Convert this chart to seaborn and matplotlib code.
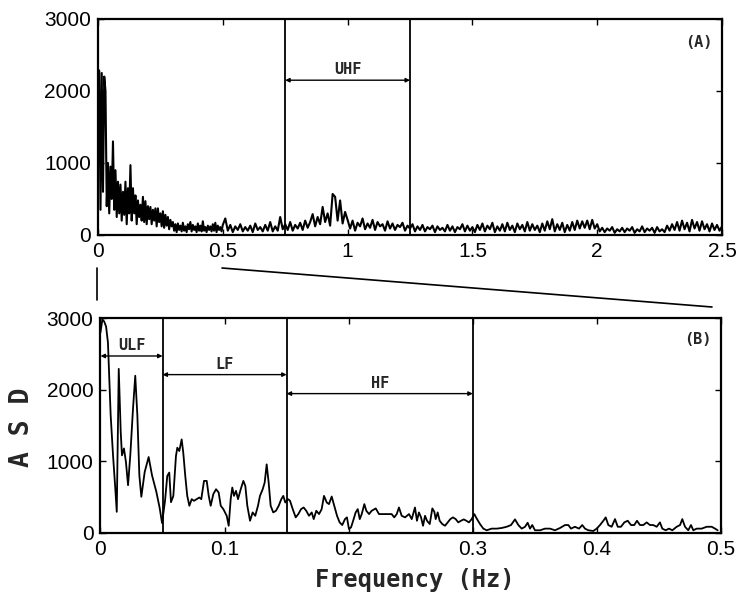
import numpy as np
import pandas as pd
import matplotlib
matplotlib.use("Agg")
import matplotlib.pyplot as plt
from matplotlib.lines import Line2D
import seaborn as sns

# ---------------- data ----------------
# Panel A: 0-0.5 Hz at 0.005 Hz, then 0.51-2.50 Hz at 0.01 Hz
freq_a_low = np.round(np.arange(0, 101) * 0.005, 4)
asd_a_low = [2300, 2280, 350, 2250, 600, 2200, 2000, 400, 1000, 300,
             950, 500, 1300, 350, 900, 250, 740, 300, 700, 200,
             600, 280, 740, 150, 650, 300, 970, 200, 650, 300,
             550, 150, 480, 250, 420, 200, 530, 180, 470, 150,
             400, 220, 390, 150, 350, 200, 370, 120, 370, 180,
             300, 120, 330, 100, 280, 130, 250, 80, 210, 120,
             180, 60, 150, 40, 160, 70, 130, 50, 170, 60,
             120, 40, 150, 80, 180, 50, 140, 70, 120, 40,
             160, 60, 130, 50, 190, 60, 110, 40, 130, 70,
             120, 50, 150, 60, 170, 40, 130, 70, 110, 50,
             140]
freq_a_high = np.round(np.arange(51, 251) * 0.01, 4)
asd_a_high = [230, 60, 140, 40, 120, 70, 150, 50, 110, 60,
              130, 40, 160, 70, 110, 50, 140, 60, 180, 50,
              120, 60, 250, 80, 150, 70, 180, 60, 140, 90,
              170, 70, 200, 100, 180, 290, 120, 250, 150, 390,
              180, 300, 130, 570, 530, 200, 480, 160, 320, 210,
              90, 200, 60, 170, 120, 230, 80, 160, 100, 210,
              70, 180, 120, 150, 60, 190, 90, 160, 70, 140,
              110, 170, 60, 130, 90, 150, 50, 120, 70, 140,
              50, 110, 80, 130, 40, 120, 70, 100, 50, 140,
              60, 120, 40, 110, 80, 150, 50, 130, 60, 110,
              40, 140, 70, 160, 50, 130, 80, 170, 40, 120,
              60, 150, 50, 170, 70, 130, 40, 160, 80, 140,
              50, 180, 60, 150, 70, 130, 40, 160, 60, 190,
              80, 220, 50, 150, 70, 170, 40, 140, 60, 180,
              70, 200, 90, 190, 100, 200, 80, 210, 90, 150,
              50, 100, 40, 90, 60, 110, 30, 80, 50, 100,
              40, 90, 60, 110, 30, 80, 50, 120, 40, 90,
              60, 100, 30, 110, 50, 80, 40, 130, 60, 150,
              70, 180, 60, 200, 80, 170, 50, 210, 90, 180,
              60, 190, 80, 150, 50, 160, 70, 140, 60, 120]

# Panel B: 0-0.5 Hz
freq_b = [0.0, 0.0015, 0.003, 0.0045, 0.006, 0.0082, 0.0101, 0.0119, 0.0131, 0.0147,
          0.0163, 0.0173, 0.0189, 0.0205, 0.0222, 0.024, 0.0262, 0.028, 0.0297, 0.0313,
          0.0329, 0.0356, 0.0388, 0.0415, 0.045, 0.0477, 0.0496, 0.052, 0.0538, 0.0554,
          0.0568, 0.0587, 0.0608, 0.0619, 0.0635, 0.0654, 0.0667, 0.0683, 0.0699, 0.0716,
          0.0735, 0.0753, 0.0775, 0.0796, 0.0812, 0.0834, 0.0856, 0.0872, 0.0888, 0.0909,
          0.0931, 0.0952, 0.0969, 0.099, 0.1017, 0.1033, 0.1049, 0.1062, 0.1076, 0.1092,
          0.1108, 0.113, 0.1151, 0.1167, 0.1183, 0.1205, 0.1226, 0.1247, 0.1269, 0.1285,
          0.1307, 0.1323, 0.1339, 0.1355, 0.1371, 0.1392, 0.1414, 0.1436, 0.1457, 0.1473,
          0.1489, 0.1511, 0.1527, 0.1549, 0.1573, 0.1594, 0.1616, 0.1637, 0.1658, 0.168,
          0.1702, 0.1718, 0.1739, 0.1761, 0.1782, 0.1801, 0.1823, 0.1841, 0.1863, 0.1884,
          0.1906, 0.1927, 0.1948, 0.197, 0.1986, 0.2002, 0.2019, 0.204, 0.2056, 0.2073,
          0.2089, 0.2105, 0.2126, 0.2142, 0.2164, 0.2185, 0.2218, 0.2244, 0.2271, 0.2306,
          0.2346, 0.2367, 0.2387, 0.2405, 0.2427, 0.2454, 0.2486, 0.2508, 0.2534, 0.255,
          0.2566, 0.2583, 0.2599, 0.2615, 0.2631, 0.2653, 0.2674, 0.269, 0.2701, 0.2717,
          0.2733, 0.2754, 0.2776, 0.2798, 0.2819, 0.284, 0.2862, 0.2883, 0.2905, 0.2927,
          0.2948, 0.2969, 0.2991, 0.3012, 0.3034, 0.3058, 0.3085, 0.3112, 0.3152, 0.3193,
          0.3233, 0.3273, 0.3308, 0.334, 0.3367, 0.3394, 0.3421, 0.3442, 0.3461, 0.3479,
          0.3501, 0.3542, 0.3582, 0.3622, 0.3662, 0.3703, 0.3743, 0.377, 0.3791, 0.3823,
          0.3856, 0.3882, 0.3904, 0.3931, 0.3971, 0.3998, 0.4025, 0.4052, 0.4071, 0.4092,
          0.4119, 0.4146, 0.4168, 0.4194, 0.4221, 0.4248, 0.4275, 0.4301, 0.4323, 0.4347,
          0.4374, 0.4401, 0.4428, 0.4454, 0.4482, 0.4508, 0.4527, 0.4554, 0.4581, 0.4608,
          0.4643, 0.467, 0.4688, 0.471, 0.4736, 0.4758, 0.4777, 0.4804, 0.4844, 0.4885,
          0.4925, 0.4952, 0.4973]
asd_b = [2800, 2980, 2950, 2880, 2657, 1640, 1083, 625, 296, 2290,
         1407, 1083, 1180, 990, 667, 1083, 1736, 2194, 1640, 806,
         505, 851, 1060, 806, 574, 347, 139, 450, 796, 843,
         430, 518, 1074, 1190, 1144, 1306, 1120, 796, 518, 380,
         472, 449, 472, 495, 472, 727, 727, 518, 380, 542,
         611, 565, 380, 333, 240, 101, 472, 634, 518, 588,
         472, 611, 727, 657, 380, 171, 287, 240, 380, 518,
         611, 704, 958, 704, 380, 287, 310, 380, 472, 518,
         426, 472, 450, 333, 218, 264, 333, 356, 310, 240,
         287, 194, 310, 264, 333, 518, 426, 403, 509, 380,
         240, 148, 111, 194, 218, 56, 79, 194, 287, 333,
         194, 264, 403, 310, 264, 310, 343, 264, 264, 264,
         264, 218, 264, 356, 240, 218, 264, 194, 356, 171,
         287, 218, 101, 240, 171, 125, 343, 296, 194, 287,
         171, 125, 101, 148, 194, 218, 194, 148, 171, 190,
         171, 148, 194, 264, 194, 125, 61, 38, 61, 61,
         70, 87, 111, 190, 111, 61, 87, 143, 61, 111,
         38, 38, 61, 61, 38, 70, 111, 111, 61, 87,
         61, 111, 61, 38, 28, 61, 111, 171, 218, 111,
         87, 194, 87, 87, 148, 171, 111, 111, 171, 111,
         111, 148, 111, 111, 87, 148, 61, 38, 61, 38,
         87, 111, 194, 87, 38, 111, 38, 61, 61, 87,
         87, 61, 38]

band_a_names = ["UHF"]
band_a_edges = [0.75, 1.25]
band_b_names = ["ULF", "LF", "HF"]
band_b_edges = [0.0, 0.05, 0.15, 0.3]

df_a = pd.DataFrame({"freq": np.concatenate([freq_a_low, freq_a_high]),
                     "asd": asd_a_low + asd_a_high})
df_b = pd.DataFrame({"freq": freq_b, "asd": asd_b})

# ---------------- figure ----------------
sns.set_style("ticks")
plt.rcParams["font.family"] = ["Liberation Sans", "DejaVu Sans"]
W, H = 737, 600
fig = plt.figure(figsize=(W / 100, H / 100), dpi=100)

def fx(px):
    return px / W

def fy(py):
    return 1 - py / H

ax_a = fig.add_axes([fx(98), fy(235), fx(722) - fx(98), fy(19) - fy(235)])
ax_b = fig.add_axes([fx(100.5), fy(533), fx(721) - fx(100.5), fy(318) - fy(533)])

bold_font = dict(family="DejaVu Sans Mono", weight="bold")

for ax, df, lw in [(ax_a, df_a, 1.5), (ax_b, df_b, 1.3)]:
    sns.lineplot(data=df, x="freq", y="asd", ax=ax, color="black",
                 linewidth=lw, estimator=None, sort=False)
    ax.set_ylim(0, 3000)
    ax.set_yticks([0, 1000, 2000, 3000])
    ax.set_xlabel("")
    ax.set_ylabel("")
    ax.tick_params(direction="in", top=True, right=True, length=4, width=1,
                   labelsize=15, colors="black", pad=5)
    for s in ax.spines.values():
        s.set_linewidth(1.6)
        s.set_color("black")

ax_a.set_xlim(0, 2.5)
ax_a.set_xticks([0, 0.5, 1, 1.5, 2, 2.5])
ax_a.set_xticklabels(["0", "0.5", "1", "1.5", "2", "2.5"])
ax_b.set_xlim(0, 0.5)
ax_b.set_xticks([0, 0.1, 0.2, 0.3, 0.4, 0.5])
ax_b.set_xticklabels(["0", "0.1", "0.2", "0.3", "0.4", "0.5"])

# band boundaries and arrows
for e in band_a_edges:
    ax_a.axvline(e, color="black", lw=1.3)
arrow_kw = dict(arrowstyle="<|-|>", lw=1.0, color="black", shrinkA=0, shrinkB=0,
                mutation_scale=6)
ax_a.annotate("", xy=(band_a_edges[1], 2150), xytext=(band_a_edges[0], 2150),
              arrowprops=arrow_kw)
ax_a.text((band_a_edges[0] + band_a_edges[1]) / 2, 2190, band_a_names[0],
          ha="center", va="bottom", fontsize=11, **bold_font)

for e in band_b_edges[1:]:
    ax_b.axvline(e, color="black", lw=1.3)
arrow_y = [2470, 2210, 1945]
label_y = [2510, 2250, 1985]
for name, x0, x1, ya, yl in zip(band_b_names, band_b_edges[:-1], band_b_edges[1:],
                                 arrow_y, label_y):
    ax_b.annotate("", xy=(x1, ya), xytext=(x0, ya), arrowprops=arrow_kw)
    ax_b.text((x0 + x1) / 2, yl, name, ha="center", va="bottom",
              fontsize=11, **bold_font)

ax_a.text(0.985, 0.89, "(A)", transform=ax_a.transAxes, ha="right", va="center",
          fontsize=11, **bold_font)
ax_b.text(0.985, 0.9, "(B)", transform=ax_b.transAxes, ha="right", va="center",
          fontsize=11, **bold_font)

# zoom connector lines between the panels
fig.add_artist(Line2D([fx(97), fx(97)], [fy(268), fy(300)], color="black", lw=1.2))
fig.add_artist(Line2D([fx(222), fx(712)], [fy(268), fy(307)], color="black", lw=1.2))

# axis labels
fig.text(fx(415), fy(580), "Frequency (Hz)", ha="center", va="center",
         fontsize=17, **bold_font)
fig.text(fx(22), fy(427), "A S D", ha="center", va="center", rotation=90,
         fontsize=19, **bold_font)

fig.savefig("out.png", dpi=100, facecolor="white")
